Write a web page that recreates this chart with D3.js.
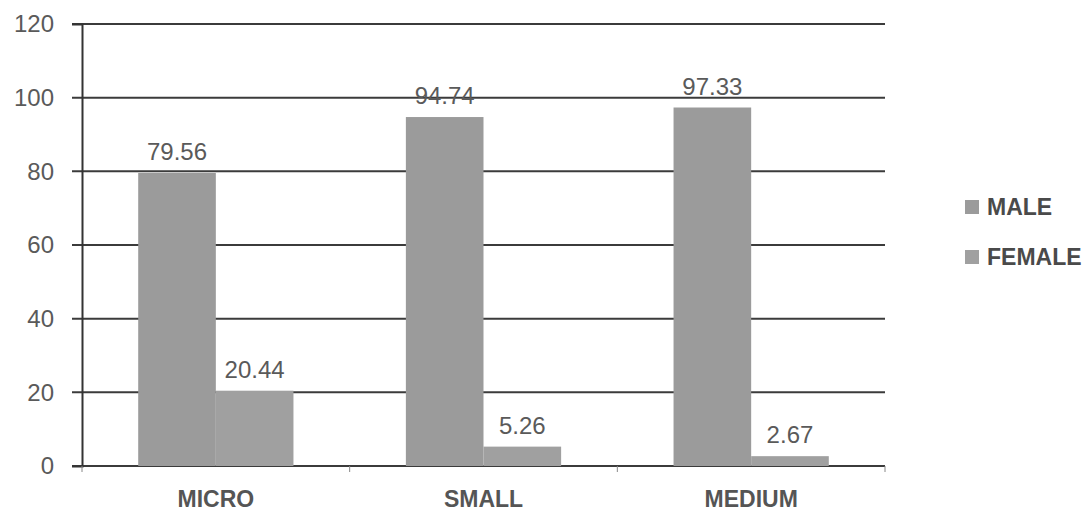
<!DOCTYPE html>
<html>
<head>
<meta charset="utf-8">
<script src="https://cdn.jsdelivr.net/npm/d3@7"></script>
<style>
  html, body { margin: 0; padding: 0; background: #ffffff; }
  svg { display: block; }
</style>
</head>
<body>
<svg id="chart" width="1091" height="511"></svg>
<script>
// Enterprise size categories and share (%) by gender
const categories = ["MICRO", "SMALL", "MEDIUM"];
const seriesNames = ["MALE", "FEMALE"];
const maleValues = [79.56, 94.74, 97.33];
const femaleValues = [20.44, 5.26, 2.67];
const yTicks = [0, 20, 40, 60, 80, 100, 120];

const seriesValues = { MALE: maleValues, FEMALE: femaleValues };
const seriesColors = { MALE: "#9b9b9b", FEMALE: "#a0a0a0" };

const svg = d3.select("#chart");
const plot = { left: 82, right: 885, top: 24, bottom: 466 };

const y = d3.scaleLinear().domain([0, 120]).range([plot.bottom, plot.top]);
const x0 = d3.scaleBand().domain(categories).range([plot.left, plot.right]).padding(0);
const step = x0.bandwidth();
const x1 = d3.scaleBand().domain(seriesNames).range([step * 0.21, step * 0.79]).padding(0);

// horizontal grid lines, extending past the axis as tick marks
svg.append("g")
  .selectAll("line")
  .data(yTicks)
  .join("line")
  .attr("x1", plot.left - 10)
  .attr("x2", plot.right)
  .attr("y1", d => y(d))
  .attr("y2", d => y(d))
  .attr("stroke", "#3b3b3b")
  .attr("stroke-width", 2);

// bars
const groups = svg.append("g")
  .selectAll("g")
  .data(categories)
  .join("g")
  .attr("transform", d => `translate(${x0(d)},0)`);

groups.selectAll("rect")
  .data((c, i) => seriesNames.map(s => ({ s, v: seriesValues[s][i] })))
  .join("rect")
  .attr("x", d => x1(d.s))
  .attr("width", x1.bandwidth())
  .attr("y", d => y(d.v))
  .attr("height", d => y(0) - y(d.v))
  .attr("fill", d => seriesColors[d.s]);

// value labels
groups.selectAll("text")
  .data((c, i) => seriesNames.map(s => ({ s, v: seriesValues[s][i] })))
  .join("text")
  .attr("x", d => x1(d.s) + x1.bandwidth() / 2)
  .attr("y", d => y(d.v) - 13)
  .attr("text-anchor", "middle")
  .attr("font-family", "'Liberation Sans', Arial, sans-serif")
  .attr("font-size", 24)
  .attr("fill", "#5a5a5a")
  .text(d => d.v.toFixed(2));

// y axis
const yAxis = svg.append("g")
  .attr("transform", `translate(${plot.left},0)`)
  .call(d3.axisLeft(y).tickValues(yTicks).tickSize(10).tickPadding(18));
yAxis.select(".domain").attr("stroke", "#333").attr("stroke-width", 2);
yAxis.selectAll(".tick line").remove();
yAxis.selectAll(".tick text")
  .attr("font-family", "'Liberation Sans', Arial, sans-serif")
  .attr("font-size", 24)
  .attr("fill", "#5a5a5a");

// x axis: category boundary ticks and labels
const bounds = categories.map(c => x0(c)).concat([plot.right]);
svg.append("g")
  .selectAll("line")
  .data(bounds)
  .join("line")
  .attr("x1", d => d)
  .attr("x2", d => d)
  .attr("y1", y(0))
  .attr("y2", y(0) + 6)
  .attr("stroke", "#888")
  .attr("stroke-width", 1);

svg.append("g")
  .selectAll("text")
  .data(categories)
  .join("text")
  .attr("x", d => x0(d) + step / 2)
  .attr("y", 507)
  .attr("text-anchor", "middle")
  .attr("font-family", "'Liberation Sans', Arial, sans-serif")
  .attr("font-weight", "bold")
  .attr("font-size", 23)
  .attr("fill", "#555")
  .text(d => d);

// legend
const legend = svg.append("g")
  .selectAll("g")
  .data(seriesNames)
  .join("g")
  .attr("transform", (d, i) => `translate(965,${207 + i * 50})`);
legend.append("rect")
  .attr("x", 0).attr("y", -7)
  .attr("width", 14).attr("height", 14)
  .attr("fill", d => seriesColors[d]);
legend.append("text")
  .attr("x", 22).attr("y", 8)
  .attr("font-family", "'Liberation Sans', Arial, sans-serif")
  .attr("font-weight", "bold")
  .attr("font-size", 23)
  .attr("fill", "#4a4a4a")
  .text(d => d);
</script>
</body>
</html>
